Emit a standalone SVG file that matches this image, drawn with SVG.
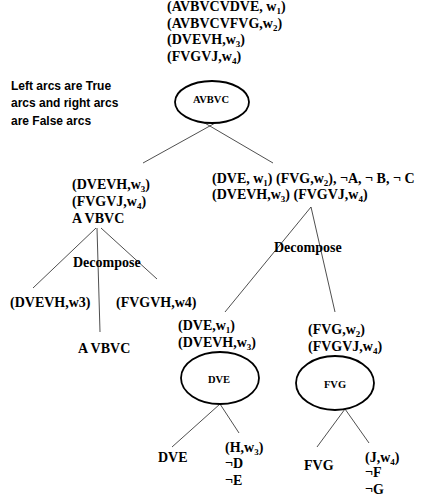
<svg xmlns="http://www.w3.org/2000/svg" width="421" height="502" viewBox="0 0 421 502">
<style>
.t{font-family:"Liberation Serif","Times New Roman",serif;font-weight:bold;font-size:14px;fill:#000}
.s{font-size:9px}
.small{font-family:"Liberation Serif","Times New Roman",serif;font-weight:bold;font-size:10.5px;fill:#000}
.note{font-family:"Liberation Sans",Arial,sans-serif;font-weight:bold;font-size:12px;fill:#000}
.el{fill:#fff;stroke:#000;stroke-width:1.8}
.c{stroke:#222;stroke-width:0.8;fill:none}
</style>
<rect width="421" height="502" fill="#fff"/>
<g id="connectors">
<line class="c" x1="217" y1="122" x2="143" y2="163"/>
<line class="c" x1="203" y1="122" x2="273" y2="163"/>
<line class="c" x1="96" y1="228" x2="33" y2="288"/>
<line class="c" x1="97" y1="228" x2="100" y2="332"/>
<line class="c" x1="101" y1="228" x2="157" y2="279"/>
<line class="c" x1="311" y1="207" x2="225" y2="312"/>
<line class="c" x1="311" y1="207" x2="335" y2="312"/>
<line class="c" x1="220" y1="404" x2="172" y2="447"/>
<line class="c" x1="220" y1="404" x2="239" y2="433"/>
<line class="c" x1="345" y1="409" x2="317" y2="447"/>
<line class="c" x1="345" y1="409" x2="369" y2="443"/>
</g>
<g id="clauses">
<text class="t" x="167" y="11">(AVBVCVDVE, w<tspan class="s" dy="3">1</tspan><tspan dy="-3">)</tspan></text>
<text class="t" x="167" y="28">(AVBVCVFVG,w<tspan class="s" dy="3">2</tspan><tspan dy="-3">)</tspan></text>
<text class="t" x="167" y="44">(DVEVH,w<tspan class="s" dy="3">3</tspan><tspan dy="-3">)</tspan></text>
<text class="t" x="167" y="61">(FVGVJ,w<tspan class="s" dy="3">4</tspan><tspan dy="-3">)</tspan></text>
</g>
<g id="note">
<text class="note" x="11" y="90">Left arcs are True</text>
<text class="note" x="11" y="107">arcs and right arcs</text>
<text class="note" x="11" y="125">are False arcs</text>
</g>
<g id="n-root">
<ellipse class="el" cx="212" cy="102" rx="37" ry="21"/>
<text class="small" x="211" y="103" text-anchor="middle">AVBVC</text>
</g>
<g id="n-left">
<text class="t" x="72" y="189">(DVEVH,w<tspan class="s" dy="3">3</tspan><tspan dy="-3">)</tspan></text>
<text class="t" x="72" y="206">(FVGVJ,w<tspan class="s" dy="3">4</tspan><tspan dy="-3">)</tspan></text>
<text class="t" x="72" y="223">A VBVC</text>
</g>
<g id="n-right">
<text class="t" x="212" y="183">(DVE, w<tspan class="s" dy="3">1</tspan><tspan dy="-3">) (FVG,w</tspan><tspan class="s" dy="3">2</tspan><tspan dy="-3">), ¬A, ¬ B, ¬ C</tspan></text>
<text class="t" x="212" y="199">(DVEVH,w<tspan class="s" dy="3">3</tspan><tspan dy="-3">) (FVGVJ,w</tspan><tspan class="s" dy="3">4</tspan><tspan dy="-3">)</tspan></text>
</g>
<g id="lbl-decompose-left">
<text class="t" x="73" y="267">Decompose</text>
</g>
<g id="n-left-1">
<text class="t" x="10" y="307">(DVEVH,w3)</text>
</g>
<g id="n-left-2">
<text class="t" x="116" y="307">(FVGVH,w4)</text>
</g>
<g id="n-left-3">
<text class="t" x="78" y="353">A VBVC</text>
</g>
<g id="lbl-decompose-right">
<text class="t" x="274" y="252">Decompose</text>
</g>
<g id="n-dve">
<text class="t" x="178" y="330">(DVE,w<tspan class="s" dy="3">1</tspan><tspan dy="-3">)</tspan></text>
<text class="t" x="178" y="347">(DVEVH,w<tspan class="s" dy="3">3</tspan><tspan dy="-3">)</tspan></text>
<ellipse class="el" cx="220" cy="378" rx="39" ry="26"/>
<text class="small" x="219" y="383" text-anchor="middle">DVE</text>
</g>
<g id="n-fvg">
<text class="t" x="308" y="334">(FVG,w<tspan class="s" dy="3">2</tspan><tspan dy="-3">)</tspan></text>
<text class="t" x="308" y="351">(FVGVJ,w<tspan class="s" dy="3">4</tspan><tspan dy="-3">)</tspan></text>
<ellipse class="el" cx="335" cy="383" rx="39" ry="27"/>
<text class="small" x="335" y="388" text-anchor="middle">FVG</text>
</g>
<g id="n-dve-true">
<text class="t" x="158" y="462">DVE</text>
</g>
<g id="n-dve-false">
<text class="t" x="225" y="452">(H,w<tspan class="s" dy="3">3</tspan><tspan dy="-3">)</tspan></text>
<text class="t" x="225" y="468">¬D</text>
<text class="t" x="225" y="485">¬E</text>
</g>
<g id="n-fvg-true">
<text class="t" x="304" y="470">FVG</text>
</g>
<g id="n-fvg-false">
<text class="t" x="365" y="462">(J,w<tspan class="s" dy="3">4</tspan><tspan dy="-3">)</tspan></text>
<text class="t" x="365" y="477">¬F</text>
<text class="t" x="365" y="494">¬G</text>
</g>
</svg>
